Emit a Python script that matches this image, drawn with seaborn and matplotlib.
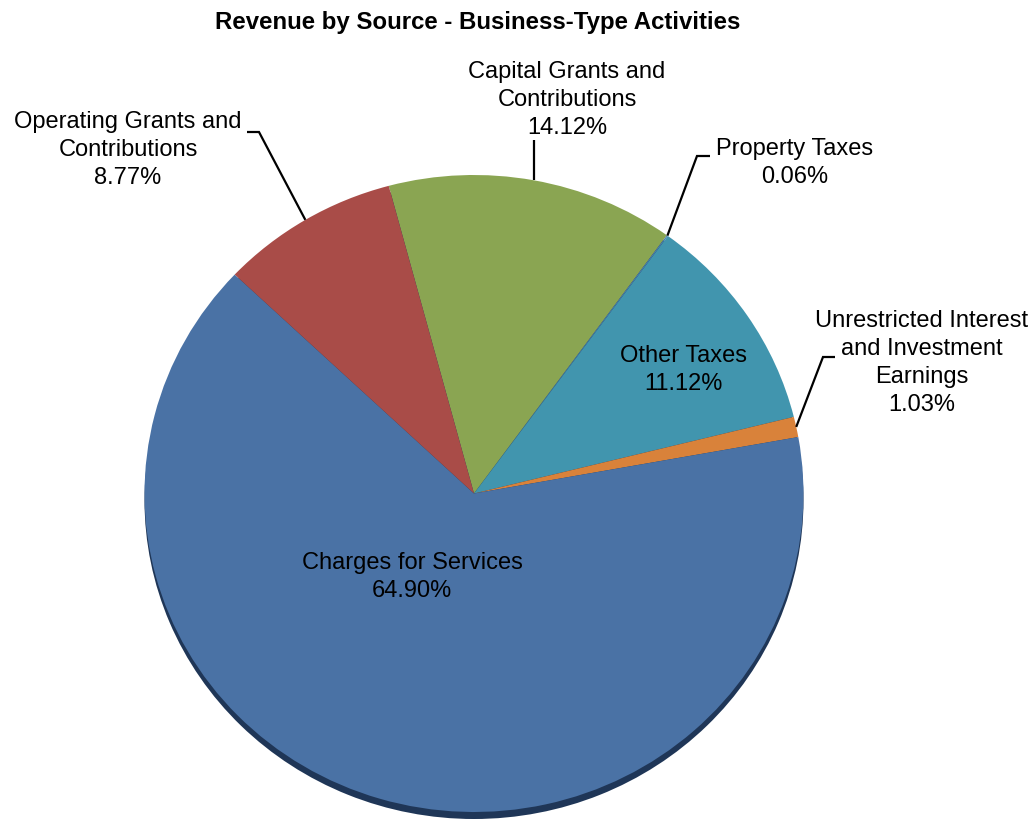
import numpy as np
import matplotlib
matplotlib.use("Agg")
import matplotlib.pyplot as plt
import seaborn as sns

# Revenue shares, listed clockwise from the top of the pie
sources = [
    "Capital Grants and\nContributions",
    "Property Taxes",
    "Other Taxes",
    "Unrestricted Interest\nand Investment\nEarnings",
    "Charges for Services",
    "Operating Grants and\nContributions",
]
shares = [14.12, 0.06, 11.12, 1.03, 64.90, 8.77]
colors = ["#8aa552", "#4a7fb0", "#4195ae", "#d9823a", "#4a72a5", "#a94c48"]
title = "Revenue by Source - Business-Type Activities"

sns.set_theme(style="white")
plt.rcParams["font.family"] = ["Liberation Sans", "DejaVu Sans"]

W, H = 1035, 821
fig = plt.figure(figsize=(W / 100, H / 100), dpi=100)
ax = fig.add_axes([0, 0, 1, 1])

# pie geometry in pixels (slightly flattened ellipse)
CX, CY, RX, RY = 474, 493.5, 329.5, 318.5
k = RY / RX


def P(x, y):
    """pixel position (origin top-left) -> data coordinates"""
    return x, (H - y) / k


# dark rim under the pie face
ax.pie([1], colors=["#1f3657"], radius=RX, center=P(CX, CY + 7),
       startangle=0, wedgeprops=dict(linewidth=0), frame=True)

wedges, _ = ax.pie(shares, colors=colors, radius=RX, center=P(CX, CY),
                   startangle=105, counterclock=False,
                   wedgeprops=dict(linewidth=0), frame=True)

ax.set_aspect("auto")
ax.set_xlim(0, W)
ax.set_ylim(0, H / k)
ax.axis("off")

cxd, cyd = P(CX, CY)


def edge_point(w):
    mid = np.deg2rad((w.theta1 + w.theta2) / 2)
    return cxd + RX * np.cos(mid), cyd + RX * np.sin(mid)


fs = 17
labels = [f"{s}\n{v:.2f}%" for s, v in zip(sources, shares)]

# (text centre, leader path from the label towards the slice)
layout = {
    0: ((567, 100), "vertical", 140),
    1: ((795, 163), [(710, 156), (697, 156)], None),
    2: ((683, 370), None, None),
    3: ((922, 363), [(835, 357), (823, 357)], None),
    4: ((412, 577), None, None),
    5: ((128, 150), [(247, 132), (259, 132)], None),
}

for i, w in enumerate(wedges):
    (tx, ty), path, ytop = layout[i]
    ax.text(*P(tx, ty), labels[i], ha="center", va="center",
            multialignment="center", fontsize=fs, color="black",
            linespacing=1.34, zorder=5)
    ex, ey = edge_point(w)
    if path == "vertical":
        ax.plot([ex, ex], [ey, P(0, ytop)[1]], color="black", lw=1.6,
                solid_capstyle="butt", zorder=4)
    elif path is not None:
        pts = [P(*p) for p in path] + [(ex, ey)]
        xs, ys = zip(*pts)
        ax.plot(xs, ys, color="black", lw=1.6, solid_capstyle="butt",
                solid_joinstyle="miter", zorder=4)

ax.text(*P(478, 23), title, ha="center", va="center", fontsize=17.3,
        fontweight="bold", color="black")

fig.savefig("out.png", dpi=100, facecolor="white")
